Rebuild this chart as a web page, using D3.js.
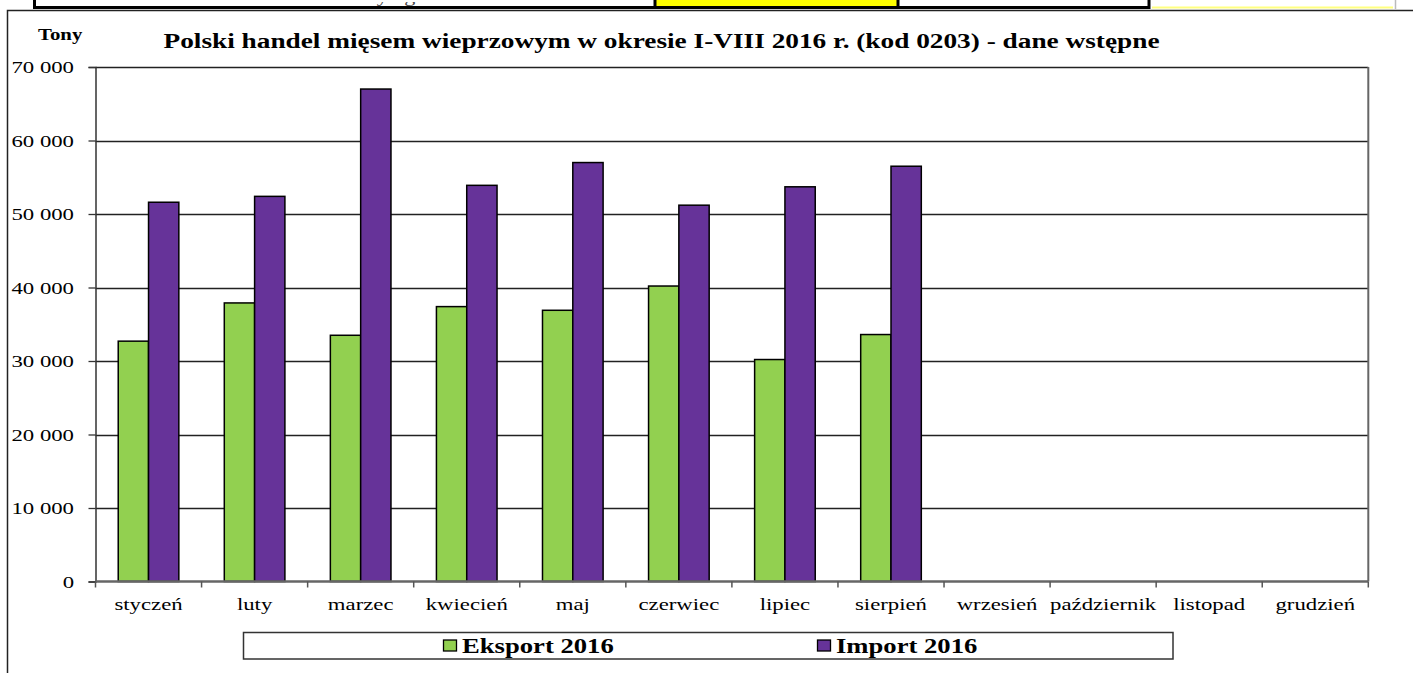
<!DOCTYPE html>
<html>
<head>
<meta charset="utf-8">
<script src="https://cdn.jsdelivr.net/npm/d3@7"></script>
<style>
  html, body { margin: 0; padding: 0; background: #fff; }
  svg { display: block; font-family: "Liberation Serif", "Times New Roman", Times, serif; }
</style>
</head>
<body>
<svg id="chart" width="1413" height="673"></svg>
<script>
// data
const months = ['styczeń', 'luty', 'marzec', 'kwiecień', 'maj', 'czerwiec', 'lipiec', 'sierpień', 'wrzesień', 'październik', 'listopad', 'grudzień']
const seriesNames = ['Eksport 2016', 'Import 2016']
const eksport = [32700, 37900, 33500, 37400, 36900, 40200, 30200, 33600, null, null, null, null]
const importV = [51600, 52400, 67000, 53900, 57000, 51200, 53700, 56500, null, null, null, null]
const yTicks = [0, 10000, 20000, 30000, 40000, 50000, 60000, 70000]
const colors = ['#92d050', '#663399']

const title = 'Polski handel mięsem wieprzowym w okresie I-VIII 2016 r. (kod 0203) - dane wstępne'
const unit = 'Tony'

const SX = 1.3   // the source picture is stretched sideways

const svg = d3.select('#chart')

const plot = {left: 95.5, right: 1368.3, top: 67, bottom: 581.5}

// --- top strip: bottom of a spreadsheet table row
const strip = svg.append('g')
const cells = [
    {x0: 34, x1: 655, fill: '#fff', txt: '(usługi) i towary ogółem', tx: 350},
    {x0: 655, x1: 898, fill: '#ffff00', txt: '2016', tx: 766},
    {x0: 898, x1: 1150, fill: '#fff', txt: '2016', tx: 1010},
    {x0: 1150, x1: 1395, fill: '#fff', txt: '', tx: 0}
]
strip.append('clipPath').attr('id', 'stripclip')
    .append('rect').attr('x', 0).attr('y', 0).attr('width', 1413).attr('height', 7)
cells.forEach(c => {
    strip.append('rect').attr('x', c.x0).attr('y', 0).attr('width', c.x1 - c.x0).attr('height', 7)
        .attr('fill', c.fill)
    if (c.txt) strip.append('text').attr('clip-path', 'url(#stripclip)')
        .attr('transform', `translate(${c.tx},2) scale(${SX},1)`)
        .attr('text-anchor', 'middle').attr('font-size', 17).attr('fill', '#444').text(c.txt)
})
strip.append('line').attr('x1', 1152).attr('x2', 1393).attr('y1', 7.5).attr('y2', 7.5)
    .attr('stroke', '#ffff80').attr('stroke-width', 2)
strip.append('line').attr('x1', 1395.5).attr('x2', 1395.5).attr('y1', 0).attr('y2', 9)
    .attr('stroke', '#bbb').attr('stroke-width', 1.5)
strip.append('line').attr('x1', 33).attr('x2', 1150).attr('y1', 7.5).attr('y2', 7.5)
    .attr('stroke', '#000').attr('stroke-width', 3)
;[34.5, 655, 898, 1149].forEach(x => {
    strip.append('line').attr('x1', x).attr('x2', x).attr('y1', 0).attr('y2', 9)
        .attr('stroke', '#000').attr('stroke-width', 3)
})

// chart area frame
svg.append('path').attr('d', 'M7.5,673V10.5H1413')
    .attr('fill', 'none').attr('stroke', '#222').attr('stroke-width', 1.5)

// --- scales
const x0 = d3.scaleBand().domain(months).range([plot.left, plot.right]).padding(0)
const x1 = d3.scaleBand().domain(seriesNames).range([0, x0.bandwidth()])
    .paddingInner(0).paddingOuter(0.75)
const y = d3.scaleLinear().domain([0, 70000]).range([plot.bottom, plot.top])

const pl = d3.formatLocale({decimal: ',', thousands: ' ', grouping: [3], currency: ['', '']})
const fmt = pl.format(',')

// gridlines
svg.append('g').selectAll('line').data(yTicks.filter(d => d > 0)).join('line')
    .attr('x1', plot.left).attr('x2', plot.right)
    .attr('y1', d => Math.round(y(d)) + 0.5).attr('y2', d => Math.round(y(d)) + 0.5)
    .attr('stroke', '#222').attr('stroke-width', 1.3)

// plot border right
svg.append('line').attr('x1', plot.right).attr('x2', plot.right)
    .attr('y1', plot.top).attr('y2', plot.bottom)
    .attr('stroke', '#666').attr('stroke-width', 2)

// bars
const values = [eksport, importV]
const groups = svg.append('g').selectAll('g').data(months).join('g')
    .attr('transform', d => `translate(${x0(d)},0)`)
groups.selectAll('rect')
    .data((m, i) => seriesNames.map((s, k) => ({s, k, v: values[k][i]})).filter(d => d.v != null))
    .join('rect')
    .attr('x', d => x1(d.s))
    .attr('width', x1.bandwidth())
    .attr('y', d => y(d.v))
    .attr('height', d => y(0) - y(d.v))
    .attr('fill', d => colors[d.k])
    .attr('stroke', '#000').attr('stroke-width', 1.5)

// y axis
const yAxis = svg.append('g').attr('transform', `translate(${plot.left},0)`)
    .call(d3.axisLeft(y).tickValues(yTicks).tickSize(7).tickPadding(14).tickFormat(fmt))
yAxis.select('.domain').attr('stroke', '#333').attr('stroke-width', 1.5)
yAxis.selectAll('.tick line').attr('stroke', '#333').attr('stroke-width', 1.3)
yAxis.selectAll('.tick text')
    .attr('font-family', '"Liberation Serif", "Times New Roman", serif').attr('font-size', 17.5).attr('fill', '#000')
    .attr('transform', `translate(-21.5,0) scale(${SX},1)`).attr('x', 0)

// x axis
const xAxis = svg.append('g').attr('transform', `translate(0,${plot.bottom})`)
xAxis.append('line').attr('x1', plot.left).attr('x2', plot.right)
    .attr('stroke', '#666').attr('stroke-width', 2.5)
xAxis.selectAll('line.tk').data(months.concat(['end'])).join('line').attr('class', 'tk')
    .attr('x1', d => d === 'end' ? plot.right : x0(d)).attr('x2', d => d === 'end' ? plot.right : x0(d))
    .attr('y1', 0).attr('y2', 6).attr('stroke', '#555').attr('stroke-width', 1.5)
xAxis.selectAll('text').data(months).join('text')
    .attr('transform', d => `translate(${x0(d) + x0.bandwidth() / 2},28) scale(${SX},1)`)
    .attr('text-anchor', 'middle').attr('font-size', 17.5).attr('fill', '#000')
    .text(d => d)

// title
const t = svg.append('text').attr('font-size', 20.5).attr('font-weight', 'bold')
    .attr('text-anchor', 'middle').text(title)
const tw = t.node().getComputedTextLength()
t.attr('transform', `translate(661.5,48) scale(${997 / tw},1)`)

svg.append('text').attr('font-size', 16).attr('font-weight', 'bold')
    .attr('transform', `translate(38,40) scale(${SX},1)`).text(unit)

// legend
const leg = {x: 243.5, y: 632.5, w: 929.5, h: 26.5}
svg.append('rect').attr('x', leg.x).attr('y', leg.y).attr('width', leg.w).attr('height', leg.h)
    .attr('fill', '#fff').attr('stroke', '#333').attr('stroke-width', 1.5)
const legX = d3.scaleOrdinal().domain(seriesNames).range([443, 817])
const li = svg.append('g').selectAll('g').data(seriesNames).join('g')
    .attr('transform', d => `translate(${legX(d)},${leg.y})`)
li.append('rect').attr('x', 0.5).attr('y', 7.5).attr('width', 13).attr('height', 11)
    .attr('fill', (d, i) => colors[i]).attr('stroke', '#000').attr('stroke-width', 1.3)
li.append('text').attr('transform', `translate(19,20.5) scale(${SX},1)`)
    .attr('font-size', 20.5).attr('font-weight', 'bold').text(d => d)
</script>
</body>
</html>
